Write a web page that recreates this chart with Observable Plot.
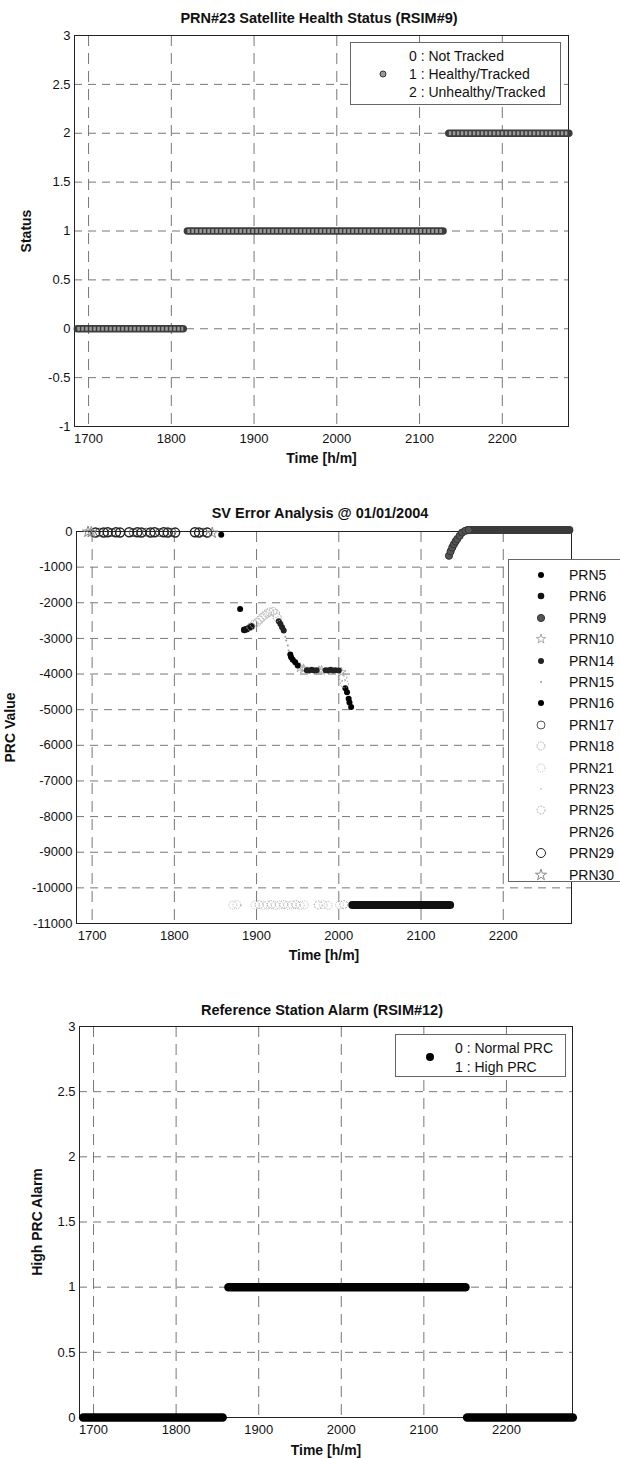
<!DOCTYPE html>
<html>
<head>
<meta charset="utf-8">
<script src="https://cdn.jsdelivr.net/npm/d3@7"></script>
<script src="https://cdn.jsdelivr.net/npm/@observablehq/plot@0.6"></script>
<style>
  body { margin: 0; background: #fff; font-family: "Liberation Sans", Arial, sans-serif; }
  #page { position: relative; width: 620px; height: 1458px; overflow: hidden; background: #fff; }
  .panel { position: absolute; left: 0; }
  .title { position: absolute; font-weight: bold; font-size: 14.5px; line-height: 18px; transform: translateX(-50%); white-space: nowrap; color: #111; }
  .legend { position: absolute; border: 1px solid #666; background: #fff; font-size: 14px; color: #111; box-sizing: border-box; }
  .legend .row { position: absolute; line-height: 16px; white-space: nowrap; }
  .legend svg { position: absolute; overflow: visible; }
  g[aria-label="x-axis label"], g[aria-label="y-axis label"] { font-weight: bold; font-size: 14px; }
</style>
</head>
<body>
<div id="page"></div>
<script>
// ---------------- data ----------------
const timeTicks = [1700, 1800, 1900, 2000, 2100, 2200];

// Panel 1: PRN#23 satellite health status (runs of constant status)
const healthTicks = [-1, -0.5, 0, 0.5, 1, 1.5, 2, 2.5, 3];
const healthRuns = [
  {status: 0, from: 1687, to: 1815},
  {status: 1, from: 1820, to: 2129},
  {status: 2, from: 2136, to: 2281}
];
const healthLegend = ["0 : Not Tracked", "1 : Healthy/Tracked", "2 : Unhealthy/Tracked"];

// Panel 2: SV error analysis (PRC values)
const prcTicks = [0, -1000, -2000, -3000, -4000, -5000, -6000, -7000, -8000, -9000, -10000, -11000];
const prnNames = ["PRN5", "PRN6", "PRN9", "PRN10", "PRN14", "PRN15", "PRN16", "PRN17", "PRN18", "PRN21", "PRN23", "PRN25", "PRN26", "PRN29", "PRN30"];
// [prn, time, prc]
const prcSamples = [
  ["PRN30", 1695, -10], ["PRN30", 1699, -20], ["PRN29", 1704, -30], ["PRN17", 1709, -20], ["PRN29", 1714, -30],
  ["PRN29", 1719, -20], ["PRN17", 1724, -30], ["PRN29", 1729, -20], ["PRN29", 1734, -30],
  ["PRN29", 1745, -20], ["PRN17", 1750, -30], ["PRN29", 1755, -20], ["PRN29", 1760, -30], ["PRN17", 1766, -20],
  ["PRN29", 1771, -30], ["PRN29", 1776, -20], ["PRN17", 1782, -30], ["PRN29", 1787, -20], ["PRN29", 1792, -30],
  ["PRN17", 1797, -20], ["PRN29", 1801, -30],
  ["PRN29", 1825, -20], ["PRN29", 1830, -30], ["PRN17", 1835, -20], ["PRN29", 1840, -30], ["PRN30", 1846, -40],
  ["PRN16", 1857, -90],
  ["PRN5", 1880, -2173],
  ["PRN18", 1893, -2668], ["PRN18", 1897, -2600], ["PRN18", 1901, -2547], ["PRN18", 1904, -2480], ["PRN18", 1907, -2407],
  ["PRN18", 1910, -2350], ["PRN18", 1913, -2296], ["PRN18", 1916, -2260], ["PRN18", 1920, -2240], ["PRN18", 1923, -2300],
  ["PRN18", 1925, -2407],
  ["PRN6", 1885, -2761], ["PRN6", 1888, -2740], ["PRN6", 1891, -2700], ["PRN6", 1894, -2660],
  ["PRN14", 1927, -2520], ["PRN14", 1929, -2593], ["PRN14", 1931, -2690], ["PRN14", 1933, -2780],
  ["PRN15", 1935, -2950], ["PRN15", 1936, -3060], ["PRN15", 1938, -3200], ["PRN15", 1939, -3340],
  ["PRN16", 1941, -3450], ["PRN16", 1942, -3528], ["PRN16", 1944, -3600], ["PRN16", 1947, -3668], ["PRN16", 1950, -3760],
  ["PRN10", 1953, -3820], ["PRN10", 1957, -3853],
  ["PRN14", 1961, -3890], ["PRN14", 1964, -3900], ["PRN14", 1967, -3880], ["PRN14", 1970, -3900], ["PRN14", 1973, -3890],
  ["PRN10", 1976, -3910], ["PRN10", 1979, -3900],
  ["PRN14", 1984, -3890], ["PRN14", 1987, -3900], ["PRN14", 1990, -3880], ["PRN14", 1993, -3900], ["PRN14", 1996, -3890],
  ["PRN14", 2000, -3900], ["PRN10", 2003, -3950],
  ["PRN25", 2005, -4088], ["PRN25", 2007, -4273],
  ["PRN16", 2008, -4400], ["PRN16", 2010, -4508], ["PRN16", 2012, -4693], ["PRN16", 2013, -4800], ["PRN16", 2015, -4928],
  ["PRN21", 1871, -10480], ["PRN21", 1876, -10470], ["PRN23", 1881, -10490],
  ["PRN21", 1898, -10480], ["PRN18", 1903, -10470], ["PRN21", 1908, -10490], ["PRN21", 1913, -10480], ["PRN18", 1918, -10470],
  ["PRN21", 1923, -10490], ["PRN21", 1928, -10480], ["PRN18", 1933, -10470], ["PRN21", 1938, -10490], ["PRN21", 1943, -10480],
  ["PRN25", 1948, -10470], ["PRN21", 1953, -10490], ["PRN21", 1958, -10480],
  ["PRN25", 1975, -10480], ["PRN21", 1981, -10470], ["PRN21", 1987, -10490],
  ["PRN21", 2001, -10480], ["PRN25", 2006, -10470],
  ["PRN9", 2134, -680], ["PRN9", 2136, -560], ["PRN9", 2138, -448], ["PRN9", 2140, -360], ["PRN9", 2142, -280],
  ["PRN9", 2144, -213], ["PRN9", 2147, -120], ["PRN9", 2150, -28], ["PRN9", 2154, 20], ["PRN9", 2158, 40]
];
// [prn, from, to, prc] dense runs at a constant value
const prcRuns = [
  ["PRN6", 2017, 2136, -10480],
  ["PRN9", 2158, 2281, 40]
];

// Panel 3: reference station alarm
const alarmTicks = [0, 0.5, 1, 1.5, 2, 2.5, 3];
const alarmRuns = [
  {alarm: 0, from: 1688, to: 1857},
  {alarm: 1, from: 1864, to: 2151},
  {alarm: 0, from: 2153, to: 2281}
];
const alarmLegend = ["0 : Normal PRC", "1 : High PRC"];

// ---------------- styles ----------------
const FONT = '"Liberation Sans", Arial, sans-serif';
const gridStyle = {stroke: "#777", strokeOpacity: 1, strokeWidth: 1};
const prnStyle = {
  PRN5:  {symbol: "circle", r: 3, fill: "#000", stroke: "none"},
  PRN6:  {symbol: "circle", r: 3.3, fill: "#111", stroke: "none"},
  PRN9:  {symbol: "circle", r: 3.6, fill: "#555", stroke: "#333"},
  PRN10: {symbol: "star", r: 3, fill: "none", stroke: "#aaa"},
  PRN14: {symbol: "circle", r: 3, fill: "#222", stroke: "none"},
  PRN15: {symbol: "circle", r: 1, fill: "#999", stroke: "none"},
  PRN16: {symbol: "circle", r: 3, fill: "#000", stroke: "none"},
  PRN17: {symbol: "circle", r: 4, fill: "none", stroke: "#555"},
  PRN18: {symbol: "circle", r: 4, fill: "none", stroke: "#aaa", dash: "1.5,1"},
  PRN21: {symbol: "circle", r: 4, fill: "none", stroke: "#bbb", dash: "1,1"},
  PRN23: {symbol: "circle", r: 0.8, fill: "#aaa", stroke: "none"},
  PRN25: {symbol: "circle", r: 4, fill: "none", stroke: "#999", dash: "1.5,1.5"},
  PRN26: {symbol: "circle", r: 0.6, fill: "#eee", stroke: "none"},
  PRN29: {symbol: "circle", r: 4.5, fill: "none", stroke: "#222", sw: 1.4},
  PRN30: {symbol: "star", r: 3.5, fill: "none", stroke: "#888"}
};
const runColor = {PRN6: "#111", PRN9: "#3a3a3a"};

function axes(ticksX, ticksY, yLabel, xOff, yOff) {
  return [
    Plot.gridX(ticksX, {...gridStyle, strokeDasharray: "11,7"}),
    Plot.gridY(ticksY, {...gridStyle, strokeDasharray: "8,6"}),
    Plot.frame({stroke: "#222", strokeWidth: 1}),
    Plot.axisX(ticksX, {tickSize: 0, tickPadding: 7, tickFormat: d => String(d),
      label: "Time [h/m]", labelAnchor: "center", labelArrow: "none", labelOffset: xOff}),
    Plot.axisY(ticksY, {tickSize: 0, tickPadding: 4, tickFormat: d => String(d),
      label: yLabel, labelAnchor: "center", labelArrow: "none", labelOffset: yOff})
  ];
}

const page = document.getElementById("page");
function place(svg, top) {
  const d = document.createElement("div");
  d.className = "panel";
  d.style.top = top + "px";
  d.appendChild(svg);
  page.appendChild(d);
}
function title(text, cx, cy) {
  const d = document.createElement("div");
  d.className = "title";
  d.style.left = cx + "px";
  d.style.top = (cy - 9) + "px";
  d.textContent = text;
  page.appendChild(d);
}
function markerSvg(x, y, st) {
  const ns = "http://www.w3.org/2000/svg";
  const s = document.createElementNS(ns, "svg");
  s.setAttribute("width", 1); s.setAttribute("height", 1);
  s.style.left = x + "px"; s.style.top = y + "px";
  const p = document.createElementNS(ns, "path");
  const sym = st.symbol === "star" ? d3.symbolStar : d3.symbolCircle;
  p.setAttribute("d", d3.symbol(sym, Math.PI * st.r * st.r)());
  p.setAttribute("fill", st.fill);
  p.setAttribute("stroke", st.stroke);
  if (st.dash) p.setAttribute("stroke-dasharray", st.dash);
  s.appendChild(p);
  return s;
}
function legend(box, rows, markers) {
  const d = document.createElement("div");
  d.className = "legend";
  Object.assign(d.style, {left: box[0] + "px", top: box[1] + "px", width: box[2] + "px", height: box[3] + "px"});
  rows.forEach(r => {
    const t = document.createElement("div");
    t.className = "row";
    t.style.left = r.x + "px";
    t.style.top = (r.y - 8) + "px";
    t.textContent = r.text;
    d.appendChild(t);
  });
  markers.forEach(m => d.appendChild(markerSvg(m.x, m.y, m.st)));
  page.appendChild(d);
}

// ---------------- panel 1 ----------------
const p1 = Plot.plot({
  width: 620, height: 470,
  marginTop: 35, marginBottom: 44, marginLeft: 74, marginRight: 52,
  style: {fontFamily: FONT, fontSize: "13px", color: "#111", background: "transparent"},
  x: {domain: [1683, 2280]},
  y: {domain: [-1, 3]},
  marks: [
    ...axes(timeTicks, healthTicks, "Status", 36, 53),
    Plot.ruleY(healthRuns, {y: "status", x1: "from", x2: "to", stroke: "#3c3c3c", strokeWidth: 7.5, strokeLinecap: "round"}),
    Plot.ruleY(healthRuns, {y: "status", x1: "from", x2: "to", stroke: "#9a9a9a", strokeWidth: 4, strokeDasharray: "2.5,1.5"})
  ]
});
place(p1, 0);

// ---------------- panel 2 ----------------
const p2 = Plot.plot({
  width: 620, height: 500,
  marginTop: 61, marginBottom: 47, marginLeft: 76, marginRight: 49,
  style: {fontFamily: FONT, fontSize: "13px", color: "#111", background: "transparent"},
  x: {domain: [1681, 2283]},
  y: {domain: [-11000, 0]},
  marks: [
    ...axes(timeTicks, prcTicks, "PRC Value", 36, 71),
    ...prcRuns.map(run => Plot.ruleY([run], {y: d => d[3], x1: d => d[1], x2: d => d[2],
      stroke: runColor[run[0]], strokeWidth: 8, strokeLinecap: "round"})),
    ...prnNames.map(prn => {
      const st = prnStyle[prn];
      return Plot.dot(prcSamples.filter(d => d[0] === prn), {x: d => d[1], y: d => d[2],
        r: st.r, symbol: st.symbol, fill: st.fill, stroke: st.stroke, strokeWidth: st.sw || 1,
        strokeDasharray: st.dash});
    })
  ]
});
place(p2, 470);

// ---------------- panel 3 ----------------
const p3 = Plot.plot({
  width: 620, height: 498,
  marginTop: 66, marginBottom: 41, marginLeft: 79, marginRight: 48,
  style: {fontFamily: FONT, fontSize: "13px", color: "#111", background: "transparent"},
  x: {domain: [1683, 2280]},
  y: {domain: [0, 3]},
  marks: [
    ...axes(timeTicks, alarmTicks, "High PRC Alarm", 37, 47),
    Plot.ruleY(alarmRuns, {y: "alarm", x1: "from", x2: "to", stroke: "#000", strokeWidth: 8.5, strokeLinecap: "round"})
  ]
});
place(p3, 960);

// ---------------- titles & legends ----------------
title("PRN#23 Satellite Health Status (RSIM#9)", 319, 18);
title("SV Error Analysis @ 01/01/2004", 320, 513);
title("Reference Station Alarm (RSIM#12)", 322, 1010);

legend([350, 42, 211, 63],
  healthLegend.map((t, i) => ({text: t, x: 58, y: 13 + i * 18})),
  [{x: 32, y: 31, st: {symbol: "circle", r: 3, fill: "#999", stroke: "#333"}}]);

legend([508, 559, 130, 323],
  prnNames.map((t, i) => ({text: t, x: 60, y: 15 + i * 21.4})),
  prnNames.map((t, i) => ({x: 32, y: 15 + i * 21.4, st: prnStyle[t]})));

legend([395, 1034, 171, 43],
  alarmLegend.map((t, i) => ({text: t, x: 59, y: 13 + i * 19})),
  [{x: 34, y: 22, st: {symbol: "circle", r: 4, fill: "#000", stroke: "none"}}]);
</script>
</body>
</html>
